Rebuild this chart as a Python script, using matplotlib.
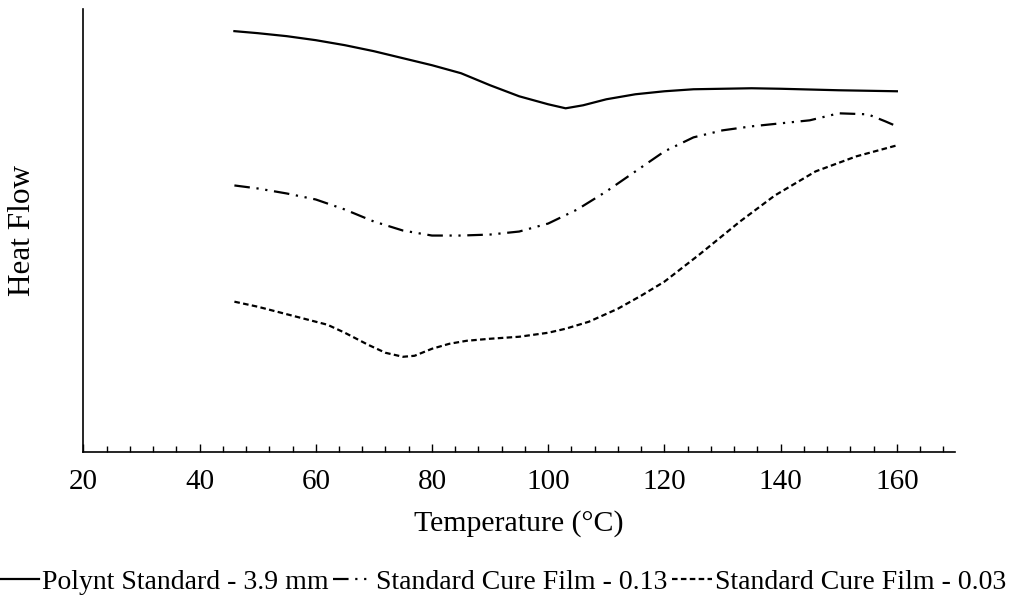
import matplotlib
matplotlib.use('Agg')
import matplotlib.pyplot as plt
from matplotlib.ticker import MultipleLocator

plt.rcParams['font.family'] = ['Liberation Serif', 'DejaVu Serif']

# Temperature (°C) and heat flow (arbitrary units)
temp_polynt = [46, 50, 55, 60, 65, 70, 75, 80, 85, 90, 95, 100, 103, 106,
               110, 115, 120, 125, 130, 135, 140, 150, 160]
hf_polynt = [4.20, 4.18, 4.15, 4.11, 4.06, 4.00, 3.93, 3.86, 3.78, 3.66,
             3.55, 3.47, 3.43, 3.46, 3.52, 3.57, 3.60, 3.62, 3.625, 3.63,
             3.625, 3.61, 3.60]

temp_scf13 = [46, 50, 55, 60, 65, 70, 75, 80, 85, 90, 95, 100, 105, 110,
              115, 120, 125, 130, 135, 140, 145, 150, 155, 158, 160]
hf_scf13 = [2.66, 2.63, 2.58, 2.52, 2.42, 2.30, 2.21, 2.16, 2.16, 2.17,
            2.20, 2.28, 2.42, 2.60, 2.80, 3.00, 3.14, 3.21, 3.25, 3.28,
            3.31, 3.38, 3.37, 3.30, 3.25]

temp_scf03 = [46, 50, 54, 58, 62, 65, 69, 72, 75, 77, 80, 83, 86, 90,
              95, 100, 103, 107, 112, 116, 120, 126, 133, 139, 146, 153, 160]
hf_scf03 = [1.50, 1.45, 1.39, 1.33, 1.27, 1.19, 1.07, 0.99, 0.95, 0.96,
            1.03, 1.08, 1.11, 1.13, 1.15, 1.19, 1.23, 1.30, 1.43, 1.56,
            1.70, 1.97, 2.30, 2.56, 2.80, 2.95, 3.06]

labels = ['Polynt Standard - 3.9 mm', 'Standard Cure Film - 0.13',
          'Standard Cure Film - 0.03']

fig = plt.figure(figsize=(10.11, 6.07), dpi=100)
ax = fig.add_axes([0.0824, 0.2554, 0.8622, 0.7296])

ax.plot(temp_polynt, hf_polynt, color='black', lw=1.6, label=labels[0])
ax.plot(temp_scf13, hf_scf13, color='black', lw=1.6,
        linestyle=(0, (7, 3, 1, 3, 1, 3)), label=labels[1])
ax.plot(temp_scf03, hf_scf03, color='black', lw=1.6,
        linestyle=(0, (2.5, 1.5)), label=labels[2])

ax.set_xlim(20, 170)
ax.set_ylim(0, 4.42)

ax.spines['top'].set_visible(False)
ax.spines['right'].set_visible(False)
ax.spines['left'].set_linewidth(1.2)
ax.spines['bottom'].set_linewidth(1.2)

ax.xaxis.set_major_locator(MultipleLocator(20))
ax.xaxis.set_minor_locator(MultipleLocator(4))
ax.tick_params(axis='x', which='major', direction='in', length=6, width=1,
               labelsize=21, pad=12)
ax.tick_params(axis='x', which='minor', direction='in', length=4, width=1)
ax.set_yticks([])

ax.set_xlabel('Temperature (°C)', fontsize=21.5, labelpad=11)
ax.set_ylabel('Heat Flow', fontsize=22.5, labelpad=33)

fig.legend(loc='center', bbox_to_anchor=(0.497, 0.041), ncol=3, frameon=False,
           fontsize=20, handlelength=1.45, handletextpad=0.12,
           columnspacing=0.15)

fig.savefig('out.png', dpi=100)
